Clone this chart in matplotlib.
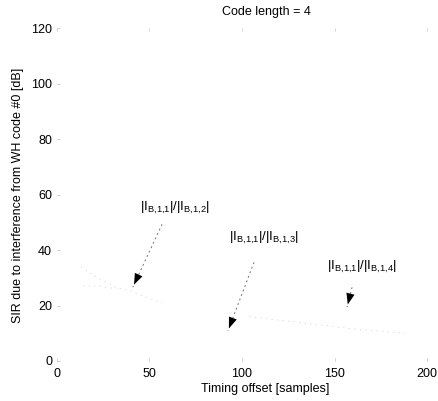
import matplotlib
matplotlib.use('Agg')
import matplotlib.pyplot as plt

plt.rcParams['font.family'] = ['Liberation Sans', 'DejaVu Sans']
plt.rcParams['mathtext.fontset'] = 'custom'
plt.rcParams['mathtext.rm'] = 'Liberation Sans'
plt.rcParams['mathtext.default'] = 'regular'

# faint curve fragments still visible in the scan
offset_a = [13, 22, 32, 41, 50, 57]
sir_a = [34, 30, 26.5, 25, 22.5, 21]
offset_b = [14, 23, 32]
sir_b = [27, 27, 26]
offset_c = [104, 161, 188]
sir_c = [16, 11.5, 10]

xticks = [0, 50, 100, 150, 200]
yticks = [0, 20, 40, 60, 80, 100, 120]

labels = [r'$|I_{B{,}1{,}1}|/|I_{B{,}1{,}2}|$', r'$|I_{B{,}1{,}1}|/|I_{B{,}1{,}3}|$',
          r'$|I_{B{,}1{,}1}|/|I_{B{,}1{,}4}|$']
label_xy = [(64, 55), (112, 44.5), (165, 34)]
arrow_tail = [(56.8, 49.3), (106.5, 35.6), (159.5, 26.6)]
arrow_tip = [(41, 26.6), (92.4, 10.8), (156.8, 19.4)]

fig = plt.figure(figsize=(4.38, 4.01), dpi=100)
ax = fig.add_axes([0.130, 0.0998, 0.845, 0.830])

for xs, ys in [(offset_a, sir_a), (offset_b, sir_b), (offset_c, sir_c)]:
  ax.plot(xs, ys, color='0.82', lw=0.5, dashes=(2, 6))

for txt, (tx, ty), tail, tip in zip(labels, label_xy, arrow_tail, arrow_tip):
  ax.text(tx, ty, txt, ha='center', va='center', fontsize=9.5)
  ax.plot([tail[0], tip[0]], [tail[1], tip[1]], color='0.45', lw=0.7, dashes=(2, 3))
  ax.annotate('', xy=tip, xytext=(tip[0] + (tail[0] - tip[0]) * 0.3, tip[1] + (tail[1] - tip[1]) * 0.3),
              arrowprops=dict(arrowstyle='-|>,head_length=0.8,head_width=0.3', fc='black', ec='none', lw=0))

ax.set_xlim(0, 200)
ax.set_ylim(0, 120)
ax.set_xticks(xticks)
ax.set_yticks(yticks)
for s in ax.spines.values():
  s.set_visible(False)
ax.tick_params(direction='in', length=2, width=0.5, color='0.75', labelsize=9, top=True, right=False)
ax.tick_params(axis='x', pad=5)

fig.text(266 / 438, 1 - 12 / 401, 'Code length = 4', ha='center', va='center', fontsize=9)
fig.text(265 / 438, 1 - 389 / 401, 'Timing offset [samples]', ha='center', va='center', fontsize=9)
fig.text(18 / 438, 1 - 195 / 401, 'SIR due to interference from WH code #0 [dB]', ha='center', va='center',
         rotation=90, fontsize=9)

fig.savefig('out.png', dpi=100)
